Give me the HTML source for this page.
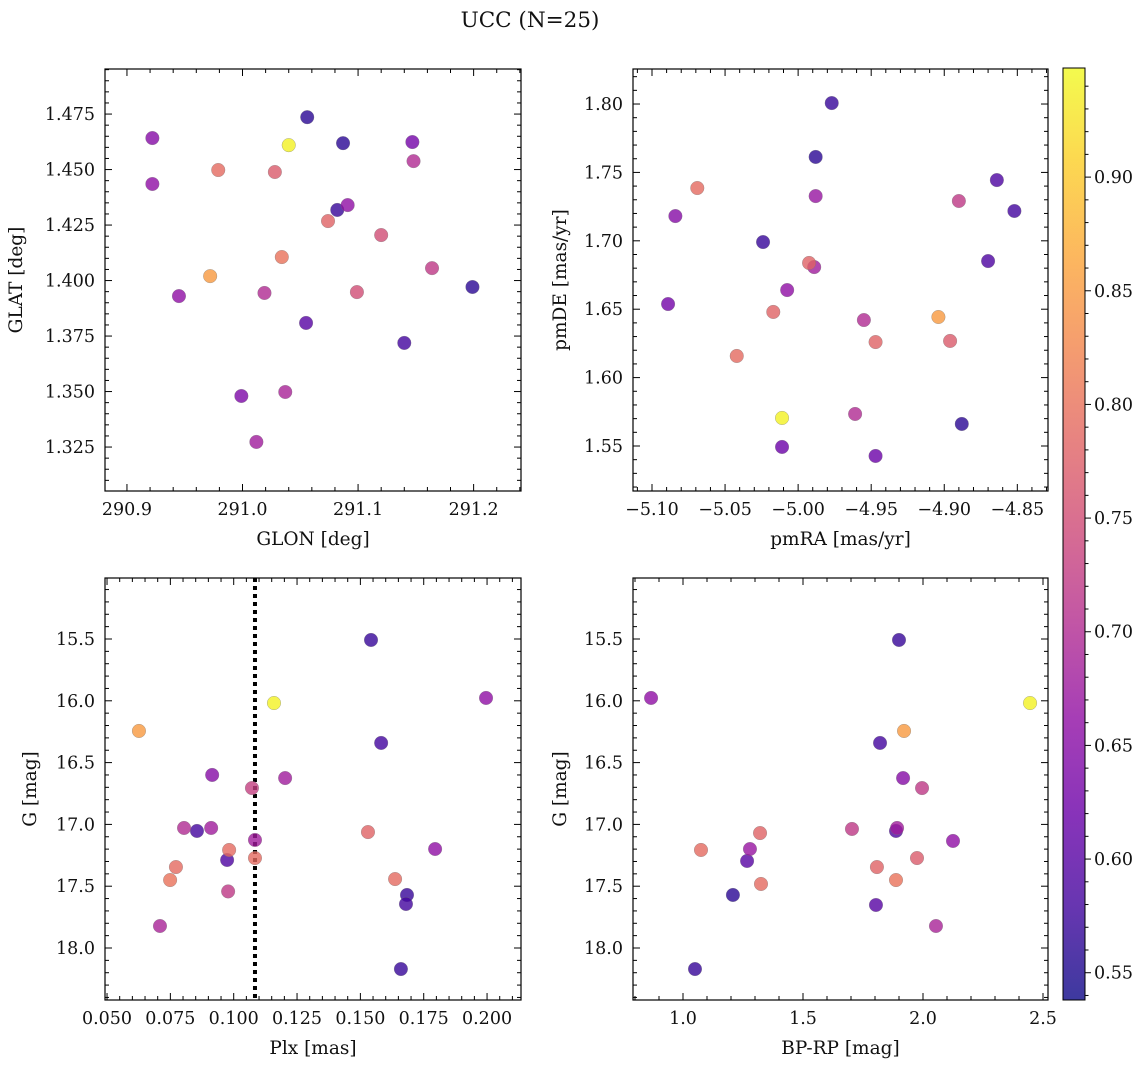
<!DOCTYPE html>
<html><head><meta charset="utf-8"><style>
body{margin:0;background:#fff;}
svg text{font-family:"DejaVu Serif","Liberation Serif",serif;fill:#111;}
</style></head><body>
<svg id="fig" width="1148" height="1068" xmlns="http://www.w3.org/2000/svg">
<text x="530" y="27" font-size="21.5" text-anchor="middle">UCC (N=25)</text>
</svg>
<script>
// Panel 1: GLON vs GLAT
const glonA=[291.056,290.922,291.040,291.087,291.147,290.922,290.979,291.028,291.148,291.082,291.091,291.074,291.120,291.034,290.972,291.164,291.199,290.945,291.019,291.099,291.055,291.140,290.999,291.037,291.012];
const glatA=[1.4736,1.4642,1.4610,1.4619,1.4624,1.4435,1.4498,1.4489,1.4538,1.4318,1.4340,1.4268,1.4205,1.4106,1.4020,1.4056,1.3971,1.3930,1.3944,1.3948,1.3809,1.3719,1.3480,1.3498,1.3273];
const probA=[0.56,0.65,0.94,0.56,0.63,0.66,0.79,0.77,0.70,0.57,0.66,0.78,0.75,0.80,0.85,0.72,0.56,0.66,0.70,0.75,0.60,0.58,0.64,0.69,0.68];
// Panel 2: pmRA vs pmDE
const pmraB=[-4.977,-4.988,-5.069,-4.864,-5.084,-4.890,-4.852,-4.988,-5.024,-4.870,-4.9925,-4.989,-5.0075,-5.089,-5.017,-4.955,-4.904,-4.947,-4.896,-5.042,-4.961,-5.011,-4.888,-5.011,-4.947];
const pmdeB=[1.8007,1.7613,1.7386,1.7444,1.7181,1.7291,1.7218,1.7327,1.6991,1.6852,1.6838,1.6808,1.6640,1.6538,1.6480,1.6421,1.6443,1.6260,1.6268,1.6158,1.5734,1.5705,1.5661,1.5493,1.5427];
const probB=[0.57,0.56,0.79,0.59,0.65,0.72,0.58,0.67,0.57,0.59,0.78,0.68,0.66,0.63,0.78,0.70,0.85,0.78,0.77,0.79,0.70,0.94,0.56,0.62,0.62];
// Panel 3: Plx vs G
const plxC=[0.1542,0.1159,0.1996,0.0626,0.1582,0.0915,0.1203,0.1072,0.0804,0.0855,0.0911,0.1084,0.153,0.0982,0.1795,0.0974,0.1084,0.0772,0.0749,0.1637,0.0978,0.1684,0.168,0.0709,0.166];
const gC=[15.508,16.018,15.977,16.244,16.341,16.600,16.625,16.706,17.029,17.053,17.029,17.126,17.062,17.207,17.199,17.288,17.272,17.345,17.450,17.442,17.542,17.571,17.644,17.822,18.170];
const probC=[0.57,0.94,0.66,0.85,0.58,0.65,0.68,0.73,0.70,0.58,0.68,0.68,0.78,0.79,0.66,0.59,0.79,0.79,0.80,0.79,0.72,0.57,0.58,0.69,0.57];
const plxCut=[0.1084];
// Panel 4: BP-RP vs G
const bprpD=[1.90,2.446,0.867,1.921,1.821,1.917,1.996,1.704,1.892,1.8875,2.125,1.975,1.808,1.8875,1.804,1.075,1.321,1.279,1.267,1.325,1.208,2.054,1.05];
const gD=[15.508,16.018,15.977,16.244,16.341,16.625,16.706,17.037,17.029,17.053,17.134,17.272,17.345,17.450,17.652,17.207,17.070,17.199,17.296,17.482,17.571,17.822,18.170];
const probD=[0.57,0.94,0.66,0.85,0.58,0.65,0.72,0.72,0.68,0.59,0.66,0.77,0.78,0.80,0.60,0.79,0.78,0.67,0.60,0.79,0.56,0.69,0.57];
// Colorbar
const cbTicks=[0.55,0.60,0.65,0.70,0.75,0.80,0.85,0.90];
const cMin=0.538,cMax=0.948;

const NS="http://www.w3.org/2000/svg";
const svg=document.getElementById('fig');
const TF=17.5, LF=18.5;
function mk(tag,at,parent){const e=document.createElementNS(NS,tag);for(const k in at)e.setAttribute(k,at[k]);(parent||svg).appendChild(e);return e;}
const stops=[[13,8,135],[65,4,157],[106,0,168],[143,13,164],[177,42,144],[204,71,120],[225,100,98],[242,132,75],[252,166,54],[252,206,37],[240,249,33]];
function plasma(t){t=Math.max(0,Math.min(1,t));const s=t*10,i=Math.min(9,Math.floor(s)),f=s-i;const a=stops[i],b=stops[i+1];
 return `rgb(${Math.round(a[0]+(b[0]-a[0])*f)},${Math.round(a[1]+(b[1]-a[1])*f)},${Math.round(a[2]+(b[2]-a[2])*f)})`;}
function cnorm(c){return (c-cMin)/(cMax-cMin);}

function panel(o){
 const {x0,y0,w,h,xmin,xmax,ymin,ymax,inv}=o;
 const g=mk('g',{});
 
 
 const sx=v=>x0+(v-xmin)/(xmax-xmin)*w;
 const sy=inv?(v=>y0+(v-ymin)/(ymax-ymin)*h):(v=>y0+h-(v-ymin)/(ymax-ymin)*h);
 const eps=1e-9;
 for(let v=Math.ceil(xmin/o.xminor-eps)*o.xminor;v<=xmax+eps;v+=o.xminor){
  const X=sx(v);const maj=Math.abs(v/o.xmajor-Math.round(v/o.xmajor))<1e-6;const L=maj?7:4;
  mk('line',{x1:X,x2:X,y1:y0+h,y2:y0+h-L,stroke:'#000','stroke-width':1},g);
  mk('line',{x1:X,x2:X,y1:y0,y2:y0+L,stroke:'#000','stroke-width':1},g);
  if(maj){const t=mk('text',{x:X,y:y0+h+24,'font-size':TF,'text-anchor':'middle'},g);t.textContent=v.toFixed(o.xdec).replace('-','\u2212');
   
   }
 }
 const ylo=Math.min(ymin,ymax),yhi=Math.max(ymin,ymax);
 for(let v=Math.ceil(ylo/o.yminor-eps)*o.yminor;v<=yhi+eps;v+=o.yminor){
  const Y=sy(v);const maj=Math.abs(v/o.ymajor-Math.round(v/o.ymajor))<1e-6;const L=maj?7:4;
  mk('line',{x1:x0,x2:x0+L,y1:Y,y2:Y,stroke:'#000','stroke-width':1},g);
  mk('line',{x1:x0+w,x2:x0+w-L,y1:Y,y2:Y,stroke:'#000','stroke-width':1},g);
  if(maj){const t=mk('text',{x:x0-10,y:Y+6,'font-size':TF,'text-anchor':'end'},g);t.textContent=v.toFixed(o.ydec);
   
   }
 }
 mk('rect',{x:x0,y:y0,width:w,height:h,fill:'none',stroke:'#000','stroke-width':1.2},g);
 const xl=mk('text',{x:x0+w/2,y:y0+h+54,'font-size':LF,'text-anchor':'middle'},g);xl.textContent=o.xlabel;
 
 
 const yx=o.ylx,yy=y0+h/2;
 const yl=mk('text',{x:yx,y:yy,'font-size':LF,'text-anchor':'middle',transform:`rotate(-90 ${yx} ${yy})`},g);yl.textContent=o.ylabel;
 
 
 if(o.vline!==undefined){const l=mk('line',{x1:sx(o.vline),x2:sx(o.vline),y1:y0,y2:y0+h,stroke:'#000','stroke-width':4,'stroke-dasharray':'4 4'},g);
  
  }
 const idx=o.xs.map((_,i)=>i).sort((a,b)=>o.cs[a]-o.cs[b]);
 for(const i of idx){
  const c=mk('circle',{cx:sx(o.xs[i]),cy:sy(o.ys[i]),r:6.8,fill:plasma(cnorm(o.cs[i])),'fill-opacity':0.8,stroke:'#777','stroke-width':0.5,'stroke-opacity':0.6},g);
  
  
 }
}
panel({name:'glon-glat-panel',x0:105,y0:69,w:416,h:422,xmin:290.881,xmax:291.241,ymin:1.3052,ymax:1.4953,xmajor:0.1,xminor:0.02,ymajor:0.025,yminor:0.005,xdec:1,ydec:3,xlabel:'GLON [deg]',ylabel:'GLAT [deg]',ylx:22,xs:glonA,ys:glatA,cs:probA});
panel({name:'pm-panel',x0:633,y0:69,w:415,h:422,xmin:-5.113,xmax:-4.829,ymin:1.5171,ymax:1.8256,xmajor:0.05,xminor:0.01,ymajor:0.05,yminor:0.01,xdec:2,ydec:2,xlabel:'pmRA [mas/yr]',ylabel:'pmDE [mas/yr]',ylx:566,xs:pmraB,ys:pmdeB,cs:probB});
panel({name:'plx-g-panel',x0:105,y0:578,w:416,h:422,xmin:0.0492,xmax:0.2134,ymin:15.0065,ymax:18.4207,inv:true,xmajor:0.025,xminor:0.005,ymajor:0.5,yminor:0.1,xdec:3,ydec:1,xlabel:'Plx [mas]',ylabel:'G [mag]',ylx:36,xs:plxC,ys:gC,cs:probC,vline:plxCut[0]});
panel({name:'cmd-panel',x0:633,y0:578,w:415,h:422,xmin:0.7917,xmax:2.5208,ymin:15.0065,ymax:18.4207,inv:true,xmajor:0.5,xminor:0.1,ymajor:0.5,yminor:0.1,xdec:1,ydec:1,xlabel:'BP-RP [mag]',ylabel:'G [mag]',ylx:566,xs:bprpD,ys:gD,cs:probD});

(function(){
 const x0=1063,y0=68,w=22,h=932;
 const g=mk('g',{});
 
 
 const defs=mk('defs',{},g);
 const lg=mk('linearGradient',{id:'cbg',x1:0,y1:1,x2:0,y2:0},defs);
 for(let i=0;i<=20;i++){const t=i/20;const v=cMin+t*(cMax-cMin);mk('stop',{offset:t,'stop-color':plasma(cnorm(v)),'stop-opacity':0.8},lg);}
 mk('rect',{x:x0,y:y0,width:w,height:h,fill:'url(#cbg)',stroke:'#000','stroke-width':1},g);
 const sy=v=>y0+h-(v-cMin)/(cMax-cMin)*h;
 for(let v=0.54;v<=cMax+1e-9;v+=0.01){const Y=sy(v);const maj=Math.abs(v*20-Math.round(v*20))<1e-6;
  mk('line',{x1:x0+w,x2:x0+w+(maj?6:3.5),y1:Y,y2:Y,stroke:'#000','stroke-width':1},g);}
 for(const v of cbTicks){const t=mk('text',{x:x0+w+9,y:sy(v)+6,'font-size':TF},g);t.textContent=v.toFixed(2);
  
  }
})();
</script>
</body></html>
